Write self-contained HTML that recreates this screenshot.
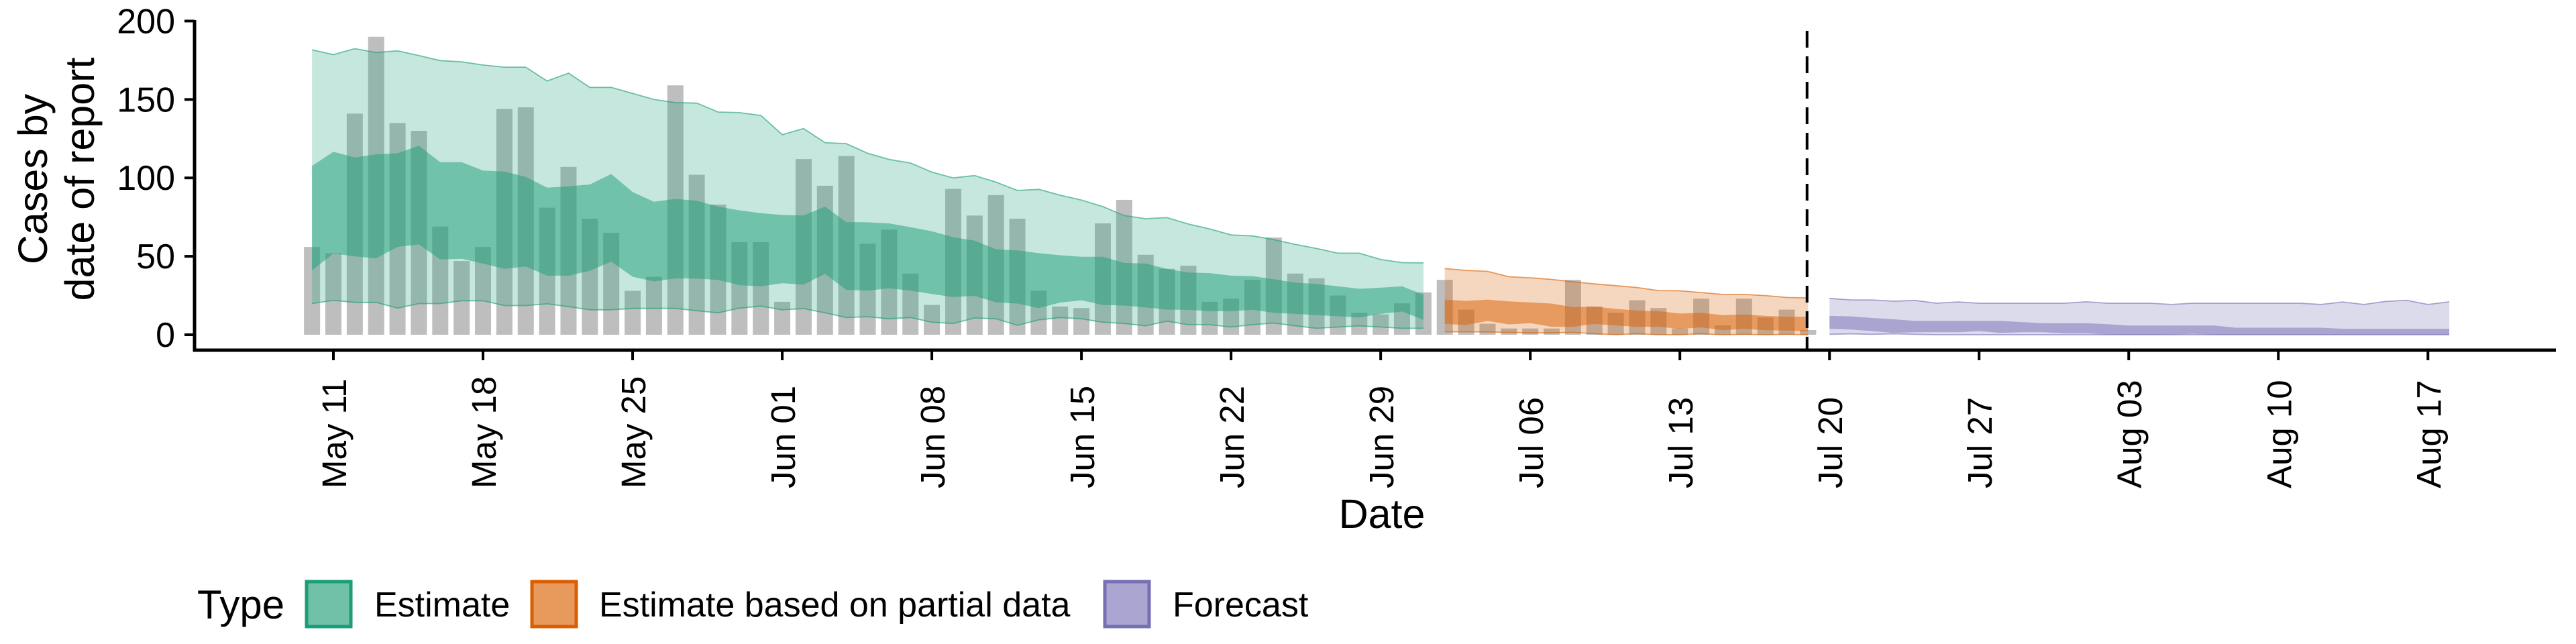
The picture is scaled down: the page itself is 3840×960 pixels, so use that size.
<!DOCTYPE html>
<html><head><meta charset="utf-8"><style>
html,body{margin:0;padding:0;background:#fff;}
svg{display:block;font-family:"Liberation Sans",Arial,sans-serif;}
</style></head><body>
<svg id="chart" width="3840" height="960" viewBox="0 0 3840 960" xmlns="http://www.w3.org/2000/svg">
<g id="bars"></g>
<g id="ribbons"></g>
<g id="axes"></g>
<text font-size="61" text-anchor="middle" transform="translate(70,267) rotate(-90)">Cases by</text>
<text font-size="61" text-anchor="middle" transform="translate(140,267) rotate(-90)">date of report</text>
<text font-size="61" text-anchor="middle" x="2060" y="787">Date</text>
<g>
<text x="294" y="922" font-size="60">Type</text>
<rect x="457" y="867" width="66" height="67" fill="#71c1a9" stroke="#1b9e77" stroke-width="5"/>
<text x="558" y="919" font-size="52">Estimate</text>
<rect x="793" y="867" width="66" height="67" fill="#e89a5c" stroke="#d95f02" stroke-width="5"/>
<text x="893" y="919" font-size="52">Estimate based on partial data</text>
<rect x="1647" y="867" width="66" height="67" fill="#aaa6d1" stroke="#7570b3" stroke-width="5"/>
<text x="1748" y="919" font-size="52">Forecast</text>
</g>
</svg>
<script>
// day index 0 = 2020-05-11
const barStartDay = -1;
const reportedCases = [56,52,141,190,135,130,69,47,56,144,145,81,107,74,65,28,37,159,102,83,59,59,
21,112,95,114,58,67,39,19,93,76,89,74,28,18,17,71,86,51,42,44,21,23,35,62,39,36,25,14,13,20,
27,35,16,7,4,4,4,35,18,14,22,17,4,23,6,23,11,16,3];

const estStartDay = -1;
const estUpper90 = [181.7,178.6,182.4,180,181,178,174.8,174,172,170.6,170.6,161.8,166.8,157.7,157.7,153.9,150,148,147.7,142,141.6,139.8,
127.6,131.5,122.5,121.8,115.7,111.8,109.5,103.7,100,101.5,97.3,92,92.7,89,85.9,81.7,76,74,74.7,70.6,67.5,63.7,63,60.7,57.6,55,52,52,48,46,45.8];
const estUpper50 = [107.6,116.7,113,115,115.7,120.5,110,110,104.7,104,100.7,93.8,94.6,95.8,102.5,91,84.8,86.6,85.4,81.7,79.3,77.5,
76.4,76,81.7,71.8,71.7,71,68.6,66,62.2,60,54.5,53.8,52,50.7,49.7,49.7,45.8,45.4,42,39.7,39.3,37.7,37.4,35.4,33.2,32.4,30.9,29.3,30,30.9,25.5];
const estLower50 = [41,51.8,50,48.7,56,57.6,48,48.4,45.4,42,43.5,37.7,37.7,40.8,46.6,37,34,35.9,35.8,35,31.6,30.9,
32.8,32,38.8,28.6,28.1,29.6,28.1,26,24,24.8,20.6,19.9,17,20.5,22,19,18.6,17.4,16,15.9,15,15,15.9,14,13.3,12.5,11.8,11,13.3,14.8,9.5];
const estLower90 = [19.9,22,20.6,20.6,17,19.9,19.9,21.7,21.7,18.6,18.6,19.7,17.9,15.9,15.9,16.8,16.8,16.8,15.3,14,17,18.3,
15.9,16.7,14,11,11.5,10.2,11,8,7.2,10.7,10.2,6,9.5,11,10.2,8,7.2,5.7,8.7,6.4,6.4,4.9,6.4,7.5,5.7,4.1,4.9,5.7,4.9,4.1,4.1];

const partStartDay = 52;
const partUpper90 = [42.2,41,40.4,37,36.3,35.3,33.8,32.4,31.3,30.1,28.2,28,26.9,25.7,25.7,25,23.8,23.5];
const partUpper50 = [22.4,21.6,22.4,21.3,20.6,19.9,17.6,17.9,16.5,15.4,15,13.5,14,12.5,12.9,12,11.5,11.5];
const partLower50 = [6.9,6.2,8.8,6.6,7.4,5.1,5.1,6.9,5.9,5.1,5.1,3.7,4.7,2.9,3.7,2.9,2.6,2.2];
const partLower90 = [1.9,1.9,1.8,1.5,1.2,1.2,1.5,0.7,0,0.7,0,0,0.7,0,0.3,0,0.3,0];

const fcStartDay = 70;
const fcUpper90 = [23.2,22.2,22.2,21.4,21.9,20.1,20.9,20.1,20.1,20.1,20.1,20.1,21,20.1,20.1,20.1,19.3,20.1,20.1,20.1,20.1,20.1,20.1,19.3,20.9,19.3,21.2,22,19.3,21];
const fcUpper50 = [12,11.7,10.7,9.9,8.8,8.8,8.8,8.8,8.8,8.1,7.4,7.4,7.4,6.7,5.9,5.9,5.9,5.9,5.9,4.5,4.5,4.5,4.5,4.5,3.8,3.8,3.8,3.8,3.8,3.8];
const fcLower50 = [3.8,3.3,2.3,1.2,1.6,1.6,1.6,2.3,1.2,1.6,1.6,0.9,0.9,0.1,0,0,0.1,0.6,0,0,0,0,0,0,0,0,0,0,0,0];
const fcLower90 = [0.3,0.6,0.3,0.6,0.3,0,0,0,0,0,0,0,0,0,0,0,0,0,0,0,0,0,0,0,0,0,0,0,0,0];

const yTicks = [0,50,100,150,200];
const xTickDays = [0,7,14,21,28,35,42,49,56,63,70,77,84,91,98];
const xTickLabels = ["May 11","May 18","May 25","Jun 01","Jun 08","Jun 15","Jun 22","Jun 29","Jul 06","Jul 13","Jul 20","Jul 27","Aug 03","Aug 10","Aug 17"];
const forecastDividerDay = 68.95;

const NS = "http://www.w3.org/2000/svg";
const xScale = d => 497 + d * 31.86;
const yScale = v => 499 - v * 2.338;

function mk(tag, attrs, parent){
  const el = document.createElementNS(NS, tag);
  for (const k in attrs) el.setAttribute(k, attrs[k]);
  parent.appendChild(el);
  return el;
}
const barsG = document.getElementById('bars');
reportedCases.forEach((v,i)=>{
  const x = xScale(barStartDay + i);
  const r = mk('rect',{x:x-12,y:yScale(v),width:24,height:yScale(0)-yScale(v),fill:'#bebebe'},barsG);
  
  
});
const ribG = document.getElementById('ribbons');
function ribbon(start, up, lo, color, alpha, edge, name){
  let pts = up.map((v,i)=>xScale(start+i).toFixed(1)+','+yScale(v).toFixed(1));
  let pts2 = lo.map((v,i)=>xScale(start+i).toFixed(1)+','+yScale(v).toFixed(1)).reverse();
  const p = mk('polygon',{points:pts.concat(pts2).join(' '),fill:color,'fill-opacity':alpha},ribG);
  
  
  if (edge){
    const l1 = mk('polyline',{points:pts.join(' '),fill:'none',stroke:color,'stroke-opacity':0.6,'stroke-width':1.8},ribG);
    
    
    const l2 = mk('polyline',{points:pts2.join(' '),fill:'none',stroke:color,'stroke-opacity':0.6,'stroke-width':1.8},ribG);
    
    
  }
}
ribbon(estStartDay, estUpper90, estLower90, '#1b9e77', 0.25, true, 'estimate-90-ribbon');
ribbon(estStartDay, estUpper50, estLower50, '#1b9e77', 0.5, false, 'estimate-50-ribbon');
ribbon(partStartDay, partUpper90, partLower90, '#d95f02', 0.25, true, 'partial-90-ribbon');
ribbon(partStartDay, partUpper50, partLower50, '#d95f02', 0.5, false, 'partial-50-ribbon');
ribbon(fcStartDay, fcUpper90, fcLower90, '#7570b3', 0.25, true, 'forecast-90-ribbon');
ribbon(fcStartDay, fcUpper50, fcLower50, '#7570b3', 0.5, false, 'forecast-50-ribbon');

const ax = document.getElementById('axes');
const dl = mk('line',{x1:xScale(forecastDividerDay),x2:xScale(forecastDividerDay),y1:46,y2:522,stroke:'#000','stroke-width':4,'stroke-dasharray':'25 13'},ax);


const ya = mk('line',{x1:290,x2:290,y1:30,y2:524,stroke:'#000','stroke-width':5},ax);


const xa = mk('line',{x1:288,x2:3810,y1:522,y2:522,stroke:'#000','stroke-width':5},ax);


yTicks.forEach(v=>{
  const y = yScale(v);
  const t = mk('line',{x1:275,x2:290,y1:y,y2:y,stroke:'#000','stroke-width':4},ax);
  
  
  const tx = mk('text',{x:261,y:y+18,'font-size':52,'text-anchor':'end'},ax);
  tx.textContent = v;
  
  
});
xTickDays.forEach((d,i)=>{
  const x = xScale(d);
  const t = mk('line',{x1:x,x2:x,y1:522,y2:537,stroke:'#000','stroke-width':4},ax);
  
  
  const tx = mk('text',{'font-size':51,transform:'translate('+(x+19)+',728) rotate(-90)'},ax);
  tx.textContent = xTickLabels[i];
  
  
});
</script>
</body></html>
